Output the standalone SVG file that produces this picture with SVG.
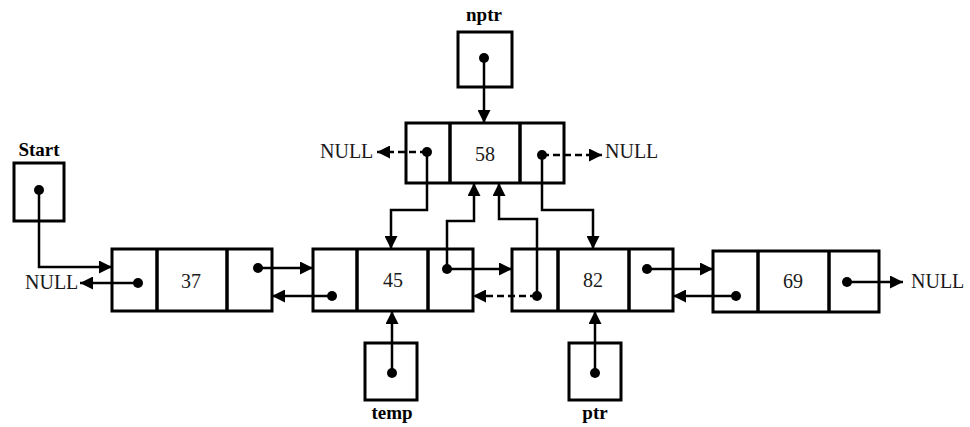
<svg xmlns="http://www.w3.org/2000/svg" width="970" height="427" viewBox="0 0 970 427">
<style>
.box{fill:#fff;stroke:#000;stroke-width:3}
.div{stroke:#000;stroke-width:3.5}
.dot{fill:#000}
.ln{fill:none;stroke:#000;stroke-width:2.5}
.dash{stroke-dasharray:7 4}
.num{font-family:"Liberation Serif","Times New Roman",serif;font-size:20px;text-anchor:middle;fill:#1a1a1a}
.null{font-family:"Liberation Serif","Times New Roman",serif;font-size:20px;fill:#1a1a1a}
.lbl{font-family:"Liberation Serif","Times New Roman",serif;font-size:19px;font-weight:bold;text-anchor:middle;fill:#000}
</style>
<defs>
<marker id="ah" markerUnits="userSpaceOnUse" markerWidth="14" markerHeight="13" refX="13" refY="6.5" orient="auto">
<path d="M0,0 L13,6.5 L0,13 z" fill="#000"/>
</marker>
</defs>
<rect width="970" height="427" fill="#fff"/>

<g id="start">
<text class="lbl" x="39" y="156">Start</text>
<rect class="box" x="14" y="163" width="50" height="58"/>
<circle class="dot" cx="39" cy="190" r="5"/>
</g>
<g id="nptr">
<text class="lbl" x="484" y="21">nptr</text>
<rect class="box" x="458" y="32" width="54" height="55"/>
<circle class="dot" cx="484" cy="58" r="5"/>
</g>
<g id="temp">
<rect class="box" x="365" y="343" width="52" height="57"/>
<circle class="dot" cx="392" cy="373" r="5"/>
<text class="lbl" x="392" y="419">temp</text>
</g>
<g id="ptr">
<rect class="box" x="569" y="343" width="52" height="57"/>
<circle class="dot" cx="595" cy="373" r="5"/>
<text class="lbl" x="595" y="419">ptr</text>
</g>

<g id="node37">
<rect class="box" x="112" y="249" width="160" height="62"/>
<line class="div" x1="157" y1="249" x2="157" y2="311"/>
<line class="div" x1="227" y1="249" x2="227" y2="311"/>
<text class="num" x="191" y="288">37</text>
<circle class="dot" cx="138" cy="283" r="5"/>
<circle class="dot" cx="258" cy="268" r="5"/>
</g>
<g id="node45">
<rect class="box" x="313" y="249" width="160" height="62"/>
<line class="div" x1="357" y1="249" x2="357" y2="311"/>
<line class="div" x1="428" y1="249" x2="428" y2="311"/>
<text class="num" x="393" y="287">45</text>
<circle class="dot" cx="332" cy="296" r="5"/>
<circle class="dot" cx="447" cy="269" r="5"/>
</g>
<g id="node82">
<rect class="box" x="512" y="249" width="161" height="62"/>
<line class="div" x1="558" y1="249" x2="558" y2="311"/>
<line class="div" x1="629" y1="249" x2="629" y2="311"/>
<text class="num" x="593" y="287">82</text>
<circle class="dot" cx="537" cy="296" r="5"/>
<circle class="dot" cx="647" cy="269" r="5"/>
</g>
<g id="node69">
<rect class="box" x="713" y="251" width="166" height="61"/>
<line class="div" x1="758" y1="251" x2="758" y2="312"/>
<line class="div" x1="829" y1="251" x2="829" y2="312"/>
<text class="num" x="793" y="288">69</text>
<circle class="dot" cx="736" cy="296" r="5"/>
<circle class="dot" cx="847" cy="282" r="5"/>
</g>
<g id="node58">
<rect class="box" x="406" y="123" width="158" height="60"/>
<line class="div" x1="450" y1="123" x2="450" y2="183"/>
<line class="div" x1="520" y1="123" x2="520" y2="183"/>
<text class="num" x="485" y="161">58</text>
<circle class="dot" cx="427" cy="152" r="5"/>
<circle class="dot" cx="542" cy="155" r="5"/>
</g>

<g id="nulls">
<text class="null" x="25" y="289">NULL</text>
<text class="null" x="320" y="158">NULL</text>
<text class="null" x="605" y="158">NULL</text>
<text class="null" x="911" y="288">NULL</text>
</g>

<g id="connectors">
<path class="ln" d="M39,190 V267 H112" marker-end="url(#ah)"/>
<path class="ln" d="M138,283 H80" marker-end="url(#ah)"/>
<path class="ln" d="M258,268 H313" marker-end="url(#ah)"/>
<path class="ln" d="M332,296 H272" marker-end="url(#ah)"/>
<path class="ln" d="M447,269 H512" marker-end="url(#ah)"/>
<path class="ln" d="M447,269 V221 H474 V183" marker-end="url(#ah)"/>
<path class="ln dash" d="M537,296 H473" marker-end="url(#ah)"/>
<path class="ln" d="M537,296 V219 H499 V183" marker-end="url(#ah)"/>
<path class="ln" d="M647,269 H713" marker-end="url(#ah)"/>
<path class="ln" d="M736,296 H673" marker-end="url(#ah)"/>
<path class="ln" d="M847,282 H903" marker-end="url(#ah)"/>
<path class="ln dash" d="M427,152 H377" marker-end="url(#ah)"/>
<path class="ln" d="M427,152 V210 H391 V249" marker-end="url(#ah)"/>
<path class="ln dash" d="M542,155 H602" marker-end="url(#ah)"/>
<path class="ln" d="M542,155 V210 H593 V249" marker-end="url(#ah)"/>
<path class="ln" d="M484,58 V123" marker-end="url(#ah)"/>
<path class="ln" d="M392,373 V311" marker-end="url(#ah)"/>
<path class="ln" d="M595,373 V311" marker-end="url(#ah)"/>
</g>
</svg>
